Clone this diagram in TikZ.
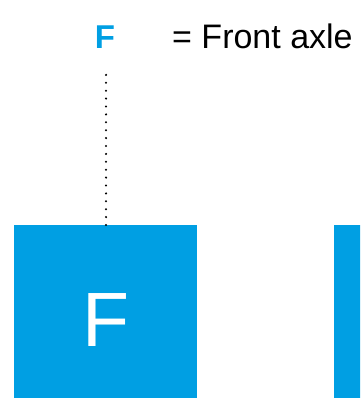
\documentclass[tikz,border=0pt]{standalone}
\usepackage{fontspec}
\setmainfont{Liberation Sans}
\definecolor{axleblue}{RGB}{0,159,227}
\begin{document}
\begin{tikzpicture}[x=1pt,y=-1pt,
  blockbox/.style={fill=axleblue, draw=none, inner sep=0pt, text=white},
  legendtxt/.style={inner sep=0pt, anchor=base west, font=\fontsize{34}{36}\selectfont},
  dotline/.style={line width=2.3pt, dash pattern=on 0pt off 7.9pt, line cap=round}]
\useasboundingbox (0,0) rectangle (360,398);
\clip (0,0) rectangle (360,398);
\node[blockbox, minimum width=183pt, minimum height=190pt, anchor=north west,
      font=\fontsize{77}{80}\selectfont] (sqF) at (14,225) {F};
\node[blockbox, minimum width=40pt, minimum height=190pt, anchor=north west] (sqR) at (334,225) {};
\node[inner sep=0pt, anchor=base, text=axleblue, font=\fontsize{33}{36}\selectfont\bfseries] (lblF) at (105,49) {F};
\node[legendtxt] (lblText) at (172,49) {= Front axle};
\coordinate (dstart) at (106,74);
\draw[dotline] (sqF.north -| dstart) -- (dstart);
\end{tikzpicture}
\end{document}
